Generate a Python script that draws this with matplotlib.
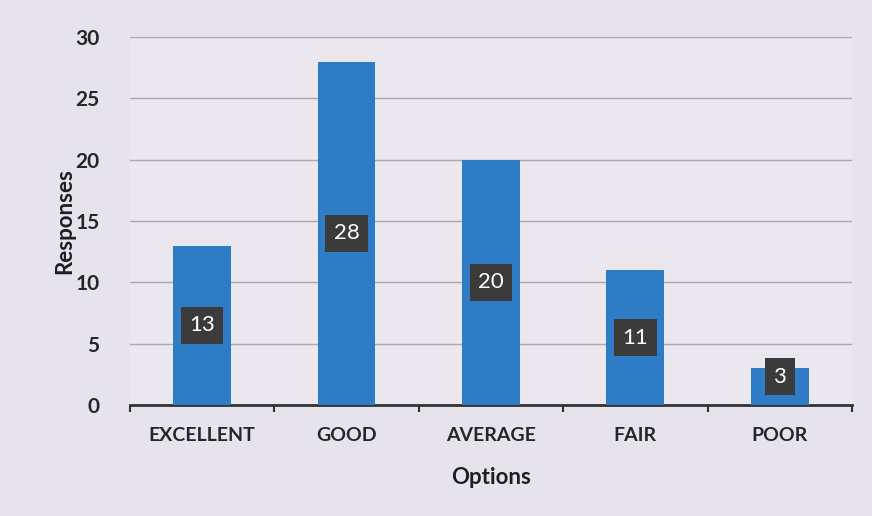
import matplotlib
matplotlib.use("Agg")
import matplotlib.pyplot as plt
import numpy as np

categories = ["EXCELLENT", "GOOD", "AVERAGE", "FAIR", "POOR"]
responses = [13, 28, 20, 11, 3]
yticks = [0, 5, 10, 15, 20, 25, 30]

plt.rcParams['font.family'] = ['Lato', 'DejaVu Sans']

fig = plt.figure(figsize=(8.72, 5.16), dpi=100, facecolor="#e7e3ec")
ax = fig.add_axes([0.149, 0.215, 0.828, 0.713])
ax.set_facecolor("#ebe7ef")

x = np.arange(len(categories))
ax.bar(x, responses, width=0.4, color="#2f7cc6", zorder=3)

for xi, v in zip(x, responses):
    ypos = max(v / 2, 2.3)
    ax.text(xi, ypos, str(v), ha="center", va="center", color="white",
            fontsize=16, zorder=5,
            bbox=dict(boxstyle="square,pad=0.38", fc="#3b3b3b", ec="none"))

ax.set_xlim(-0.5, len(categories) - 0.5)
ax.set_ylim(0, 30)
ax.set_yticks(yticks)
ax.set_yticklabels([str(t) for t in yticks], fontsize=15, fontweight="bold", color="#262626")
ax.set_xticks(x)
ax.set_xticklabels(categories, fontsize=14, fontweight="bold", color="#262626")
ax.tick_params(axis="x", which="major", length=0, pad=16)
ax.tick_params(axis="y", length=0, pad=22)
ax.set_xticks(np.arange(-0.5, len(categories)), minor=True)
ax.tick_params(axis="x", which="minor", length=5, width=1.5, color="#333333", direction="out")

ax.grid(axis="y", color="#a9a6ad", linewidth=1.0, zorder=0)
for s in ["top", "right", "left"]:
    ax.spines[s].set_visible(False)
ax.spines["bottom"].set_color("#333333")
ax.spines["bottom"].set_linewidth(2)

ax.set_ylabel("Responses", fontsize=16, fontweight="bold", color="#1e1e1e", labelpad=0)
ax.set_xlabel("Options", fontsize=16, fontweight="bold", color="#1e1e1e", labelpad=16)

fig.savefig("out.png", dpi=100, facecolor=fig.get_facecolor())
